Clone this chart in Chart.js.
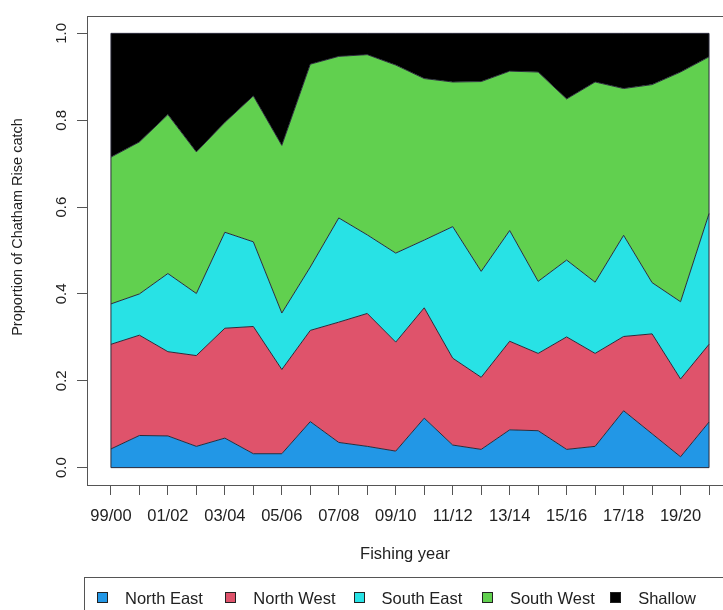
<!DOCTYPE html>
<html>
<head>
<meta charset="utf-8">
<script src="https://cdn.jsdelivr.net/npm/chart.js@4.4.0/dist/chart.umd.min.js"></script>
<style>
  html, body { margin: 0; padding: 0; background: #fff; }
  #wrap { position: relative; width: 723px; height: 610px; overflow: hidden; }
  #legend {
    position: absolute; left: 84px; top: 577px; width: 680px; height: 45px;
    border: 1px solid #555; box-sizing: border-box;
    font: 16.5px "Liberation Sans", Arial, sans-serif; color: #222;
  }
  .item { position: absolute; top: 11px; height: 18px; line-height: 18px; white-space: nowrap; }
  .swatch { position: absolute; left: 0; top: 3px; width: 11px; height: 11px; border: 1px solid #222; box-sizing: border-box; }
  .item span { position: absolute; left: 28px; top: 0; }
</style>
</head>
<body>
<div id="wrap">
  <canvas id="catchChart" width="723" height="610"></canvas>
  <div id="legend"></div>
</div>
<script>
// proportion of catch by area, per fishing year
var fishingYears = ['99/00', '00/01', '01/02', '02/03', '03/04', '04/05', '05/06', '06/07',
  '07/08', '08/09', '09/10', '10/11', '11/12', '12/13', '13/14', '14/15', '15/16', '16/17',
  '17/18', '18/19', '19/20', '20/21'];

var northEast = [0.043, 0.074, 0.073, 0.049, 0.068, 0.032, 0.032, 0.106, 0.058, 0.049, 0.038,
  0.114, 0.052, 0.042, 0.087, 0.085, 0.042, 0.049, 0.131, 0.078, 0.025, 0.105];
var northWest = [0.241, 0.231, 0.194, 0.209, 0.253, 0.293, 0.194, 0.210, 0.277, 0.306, 0.251,
  0.254, 0.200, 0.166, 0.204, 0.178, 0.259, 0.214, 0.171, 0.230, 0.179, 0.179];
var southEast = [0.093, 0.095, 0.180, 0.143, 0.221, 0.195, 0.130, 0.146, 0.240, 0.181, 0.205,
  0.156, 0.303, 0.244, 0.255, 0.166, 0.177, 0.164, 0.233, 0.118, 0.178, 0.301];
var southWest = [0.338, 0.350, 0.366, 0.326, 0.253, 0.336, 0.386, 0.467, 0.372, 0.415, 0.433,
  0.372, 0.333, 0.437, 0.367, 0.482, 0.371, 0.461, 0.338, 0.456, 0.529, 0.361];
var shallow = [0.285, 0.250, 0.187, 0.273, 0.205, 0.144, 0.258, 0.071, 0.053, 0.049, 0.073,
  0.104, 0.112, 0.111, 0.087, 0.089, 0.151, 0.112, 0.127, 0.118, 0.089, 0.054];

var yTicks = [0, 0.2, 0.4, 0.6, 0.8, 1.0];

var areaNames = ['North East', 'North West', 'South East', 'South West', 'Shallow'];
var areaColours = ['#2297E6', '#DF536B', '#28E2E5', '#61D04F', '#000000'];
var areaValues = [northEast, northWest, southEast, southWest, shallow];

var font = '"Liberation Sans", Arial, sans-serif';
var ink = '#222';
var axisGrey = '#555';

// box round the plot, polygon edges and the rotated y label
var frame = {
  id: 'frame',
  afterDatasetsDraw: function (chart) {
    var ctx = chart.ctx, x = chart.scales.x, y = chart.scales.y;
    var x0 = x.getPixelForValue(0), x1 = x.getPixelForValue(fishingYears.length - 1);
    var y0 = y.getPixelForValue(0), y1 = y.getPixelForValue(1);
    ctx.save();
    ctx.strokeStyle = '#2a2a3a';
    ctx.lineWidth = 1;
    ctx.beginPath();
    ctx.moveTo(x0, y1); ctx.lineTo(x0, y0); ctx.lineTo(x1, y0); ctx.lineTo(x1, y1);
    ctx.stroke();
    ctx.restore();
  },
  afterDraw: function (chart) {
    var ctx = chart.ctx, a = chart.chartArea;
    ctx.save();
    ctx.strokeStyle = axisGrey;
    ctx.lineWidth = 1;
    ctx.strokeRect(Math.round(a.left) + 0.5, Math.round(a.top) + 0.5,
      a.right - a.left + 10, Math.round(a.bottom - a.top));
    ctx.fillStyle = ink;
    ctx.font = '14.5px ' + font;
    ctx.textAlign = 'center';
    ctx.textBaseline = 'middle';
    ctx.translate(18, 227);
    ctx.rotate(-Math.PI / 2);
    ctx.fillText('Proportion of Chatham Rise catch', 0, 0);
    ctx.restore();
  }
};

new Chart(document.getElementById('catchChart'), {
  type: 'line',
  data: {
    datasets: areaValues.map(function (vals, k) {
      return {
        label: areaNames[k],
        data: vals.map(function (v, i) { return { x: i, y: v }; }),
        backgroundColor: areaColours[k],
        borderColor: '#2a2a3a',
        borderWidth: 1,
        fill: k === 0 ? 'origin' : '-1',
        pointRadius: 0,
        tension: 0
      };
    })
  },
  options: {
    responsive: false,
    animation: false,
    devicePixelRatio: 1,
    layout: { padding: { left: 0, top: 16, right: 0, bottom: 45 } },
    plugins: { legend: { display: false }, tooltip: { enabled: false } },
    scales: {
      x: {
        type: 'linear',
        min: -0.84,
        max: 21.49,
        afterBuildTicks: function (s) { s.ticks = fishingYears.map(function (_, i) { return { value: i }; }); },
        afterFit: function (s) { s.height = 80; },
        grid: { drawOnChartArea: false, drawTicks: true, tickLength: 10, color: axisGrey },
        border: { display: false },
        ticks: {
          autoSkip: false, maxRotation: 0, minRotation: 0, padding: 12,
          color: ink, font: { family: font, size: 16.5 },
          callback: function (v, i) { return i % 2 === 0 ? fishingYears[i] : ''; }
        },
        title: {
          display: true, text: 'Fishing year', color: ink,
          font: { family: font, size: 16.5 }, padding: { top: 0, bottom: 1 }
        }
      },
      y: {
        type: 'linear',
        stacked: true,
        min: -0.04,
        max: 1.04,
        afterBuildTicks: function (s) { s.ticks = yTicks.map(function (v) { return { value: v }; }); },
        afterFit: function (s) { s.width = 87; },
        grid: { drawOnChartArea: false, drawTicks: true, tickLength: 10, color: axisGrey },
        border: { display: false },
        ticks: {
          minRotation: 90, maxRotation: 90, crossAlign: 'center', padding: 4.5,
          color: ink, font: { family: font, size: 15 },
          callback: function (v) { return v.toFixed(1); }
        }
      }
    }
  },
  plugins: [frame]
});

// legend row under the plot
var legend = document.getElementById('legend');
areaNames.forEach(function (name, k) {
  var item = document.createElement('div');
  item.className = 'item';
  item.style.left = (12 + k * 128.3) + 'px';
  var sw = document.createElement('div');
  sw.className = 'swatch';
  sw.style.background = areaColours[k];
  var label = document.createElement('span');
  label.textContent = name;
  item.appendChild(sw);
  item.appendChild(label);
  legend.appendChild(item);
});
</script>
</body>
</html>
